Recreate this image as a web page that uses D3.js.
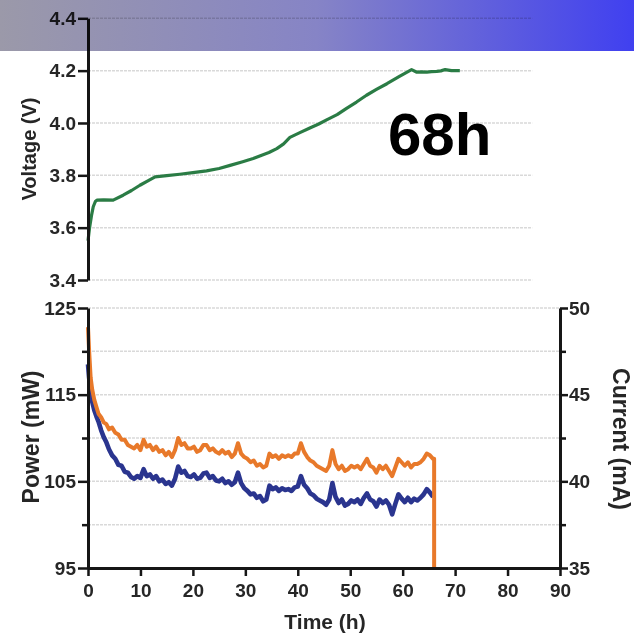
<!DOCTYPE html>
<html>
<head>
<meta charset="utf-8">
<script src="https://cdn.jsdelivr.net/npm/d3@7"></script>
<style>
  html, body { margin: 0; padding: 0; background: #fff; }
  svg { display: block; }
  text { font-family: 'Liberation Sans', Arial, sans-serif; font-weight: bold; fill: #262626; }
</style>
</head>
<body>
<svg id="chart" width="634" height="635"></svg>
<script>
// voltage trace (top panel)
const voltHours = [0, 0.3, 0.7, 1.0, 1.4, 1.7, 3.0, 4.8, 6.7, 8.3,
  9.9, 11.5, 12.8, 15.0, 17.5, 20.0, 22.6, 25.0, 27.1, 29.5,
  31.5, 33.0, 34.5, 36.0, 37.3, 38.5, 40.3, 42.3, 44.0, 45.5,
  47.5, 49.3, 51.2, 53.1, 55.0, 57.0, 59.3, 61.7, 62.7, 63.6,
  64.6, 65.5, 66.5, 67.3, 68.1, 69.3, 70.9];
const voltage = [3.55, 3.60, 3.65, 3.68, 3.70, 3.705, 3.706, 3.705, 3.724, 3.742,
  3.762, 3.780, 3.794, 3.799, 3.804, 3.810, 3.817, 3.826, 3.838, 3.852,
  3.864, 3.876, 3.887, 3.902, 3.920, 3.945, 3.962, 3.981, 3.996, 4.012,
  4.032, 4.056, 4.080, 4.106, 4.128, 4.150, 4.177, 4.204, 4.194, 4.195,
  4.194, 4.196, 4.197, 4.199, 4.204, 4.200, 4.200];

// power / current traces (bottom panel)
const hours = [0, 0.2, 0.5, 0.8, 1.2, 1.6, 2.0, 2.5, 3.0, 3.5,
  4.0, 4.6, 5.2, 5.8, 6.4, 7.0, 7.6, 8.2, 8.8, 9.4,
  10.0, 10.6, 11.2, 11.8, 12.4, 13.0, 13.6, 14.2, 14.8, 15.4,
  16.0, 16.6, 17.2, 17.8, 18.4, 19.0, 19.6, 20.2, 20.8, 21.4,
  22.0, 22.6, 23.2, 23.8, 24.4, 25.0, 25.6, 26.2, 26.8, 27.4,
  28.0, 28.6, 29.2, 29.8, 30.4, 31.0, 31.6, 32.2, 32.8, 33.4,
  34.0, 34.6, 35.2, 35.8, 36.4, 37.0, 37.6, 38.2, 38.8, 39.4,
  40.0, 40.6, 41.2, 41.8, 42.4, 43.0, 43.6, 44.2, 44.8, 45.4,
  46.0, 46.6, 47.2, 47.8, 48.4, 49.0, 49.6, 50.2, 50.8, 51.4,
  52.0, 52.6, 53.2, 53.8, 54.4, 55.0, 55.6, 56.2, 56.8, 57.4,
  58.0, 58.6, 59.2, 59.8, 60.4, 61.0, 61.6, 62.2, 62.8, 63.4,
  64.0, 64.6, 65.2, 65.8];
const power = [118.5, 117.0, 115.4, 114.2, 113.2, 112.5, 111.9, 110.9, 110.1, 109.5,
  108.7, 108.0, 107.6, 106.9, 106.8, 106.1, 106.0, 105.5, 105.3, 105.6,
  105.4, 106.4, 105.6, 105.8, 105.3, 105.6, 105.0, 105.2, 104.7, 104.9,
  104.5, 105.3, 106.7, 106.0, 106.2, 105.6, 105.5, 105.8, 105.3, 105.4,
  105.9, 106.0, 105.4, 105.6, 105.1, 105.0, 105.3, 104.8, 105.0, 104.6,
  104.9, 106.0, 104.8, 104.2, 103.9, 103.5, 103.6, 103.1, 103.3, 102.7,
  102.9, 104.5, 104.1, 104.3, 103.9, 104.2, 104.0, 104.1, 103.9, 104.3,
  104.4, 105.6, 104.6, 104.2, 103.6, 103.4, 103.0, 102.8, 102.6, 102.3,
  102.9, 104.8, 103.2, 102.5, 102.9, 102.2, 102.4, 102.8, 102.6, 102.9,
  102.4, 103.1, 103.6, 102.9, 102.7, 102.1, 102.9, 102.5, 102.8, 102.3,
  101.2, 102.4, 103.5, 103.0, 102.6, 103.1, 102.6, 103.0, 102.8, 103.1,
  103.5, 104.1, 103.7, 103.2];
const current = [48.9, 47.6, 46.0, 45.3, 44.7, 44.3, 43.9, 43.7, 43.4, 43.3,
  43.0, 43.1, 42.8, 42.7, 42.4, 42.4, 42.1, 42.0, 41.9, 42.1,
  41.8, 42.4, 42.0, 42.1, 41.8, 42.0, 41.7, 41.8, 41.5, 41.7,
  41.4, 41.8, 42.5, 42.1, 42.2, 41.9, 41.9, 42.0, 41.7, 41.8,
  42.1, 42.1, 41.8, 41.9, 41.7, 41.6, 41.8, 41.6, 41.7, 41.4,
  41.6, 42.2, 41.6, 41.4, 41.3, 41.1, 41.2, 40.9, 41.0, 40.8,
  40.9, 41.6, 41.4, 41.5, 41.3, 41.5, 41.4, 41.5, 41.4, 41.6,
  41.6, 42.2, 41.7, 41.4, 41.2, 41.1, 40.9, 40.8, 40.7, 40.6,
  40.9, 41.8, 41.0, 40.7, 40.9, 40.6, 40.7, 40.9, 40.8, 40.9,
  40.7, 41.0, 41.3, 40.9, 40.8, 40.5, 40.9, 40.7, 40.9, 40.6,
  40.3, 40.8, 41.3, 41.1, 40.9, 41.1, 40.8, 41.0, 41.0, 41.1,
  41.3, 41.6, 41.5, 41.3];
// current cut-off at the end of the run
const cutoffHours = [66.0, 66.0];
const cutoffCurrent = [41.3, 35];

const xTicks = d3.range(0, 91, 10);
const voltTicks = [3.4, 3.6, 3.8, 4.0, 4.2, 4.4];
const powerTicks = [95, 105, 115, 125];
const powerMinor = [100, 110, 120];
const currentTicks = [35, 40, 45, 50];
const currentMinor = [37.5, 42.5, 47.5];

const svg = d3.select('#chart');
const W = 634;

const COLORS = { volt: '#2c7c45', power: '#2b358f', current: '#e8792b', grid: '#d9d9d9', axis: '#161616' };

const defs = svg.append('defs');
const grad = defs.append('linearGradient').attr('id', 'banner').attr('x1', 0).attr('x2', 1);
grad.append('stop').attr('offset', '0%').attr('stop-color', '#9b99a9');
grad.append('stop').attr('offset', '50%').attr('stop-color', '#8684c6');
grad.append('stop').attr('offset', '100%').attr('stop-color', '#4040f0');
defs.append('filter').attr('id', 'soft')
  .append('feGaussianBlur').attr('stdDeviation', 0.55);

const root = svg.append('g').attr('filter', 'url(#soft)');

const x = d3.scaleLinear().domain([0, 90]).range([88, 560]);
const yVolt = d3.scaleLinear().domain([3.4, 4.4]).range([280, 18.3]);
const yPower = d3.scaleLinear().domain([95, 125]).range([568, 308]);
const yCurrent = d3.scaleLinear().domain([35, 50]).range([568, 308]);
const topGridEnd = 84.7; // top panel grid stops short of the right axis

const styleAxis = g => {
  g.select('.domain').attr('stroke', COLORS.axis).attr('stroke-width', 3);
  g.selectAll('.tick line').attr('stroke', COLORS.axis).attr('stroke-width', 2.5);
  g.selectAll('.tick text').attr('font-size', 19).attr('fill', '#262626')
    .style('font-family', "'Liberation Sans', Arial, sans-serif").style('font-weight', 'bold');
};

// ---- top panel: voltage
root.append('g').selectAll('line').data(voltTicks).join('line')
  .attr('x1', x(0)).attr('x2', x(topGridEnd))
  .attr('y1', d => yVolt(d)).attr('y2', d => yVolt(d))
  .attr('stroke', COLORS.grid).attr('stroke-width', 1.5).attr('stroke-dasharray', '3,1');

root.append('path')
  .datum(d3.zip(voltHours, voltage))
  .attr('fill', 'none').attr('stroke', COLORS.volt).attr('stroke-width', 3.2)
  .attr('stroke-linejoin', 'round')
  .attr('d', d3.line().x(d => x(d[0])).y(d => yVolt(d[1])));

root.append('g').attr('transform', `translate(${x(0)},0)`)
  .call(d3.axisLeft(yVolt).tickValues(voltTicks).tickFormat(d3.format('.1f'))
    .tickSize(10).tickSizeOuter(0).tickPadding(2))
  .call(styleAxis);

root.append('text').attr('transform', 'translate(36,149) rotate(-90)')
  .attr('text-anchor', 'middle').attr('font-size', 20).text('Voltage (V)');

// ---- bottom panel: power and current
root.append('g').selectAll('line').data(d3.range(95, 126, 5)).join('line')
  .attr('x1', x(0)).attr('x2', x(90))
  .attr('y1', d => yPower(d)).attr('y2', d => yPower(d))
  .attr('stroke', COLORS.grid).attr('stroke-width', 1.5).attr('stroke-dasharray', '3,1');

const lineP = d3.line().x(d => x(d[0])).y(d => yPower(d[1]));
const lineI = d3.line().x(d => x(d[0])).y(d => yCurrent(d[1]));

root.append('path')
  .datum(d3.zip(hours, power))
  .attr('fill', 'none').attr('stroke', COLORS.power).attr('stroke-width', 4.6)
  .attr('stroke-linejoin', 'round').attr('d', lineP);

root.append('path')
  .datum(d3.zip(hours, current).concat(d3.zip(cutoffHours, cutoffCurrent)))
  .attr('fill', 'none').attr('stroke', COLORS.current).attr('stroke-width', 4)
  .attr('stroke-linejoin', 'round').attr('d', lineI);

// left axis
root.append('g').attr('transform', `translate(${x(0)},0)`)
  .call(d3.axisLeft(yPower).tickValues(powerTicks).tickSize(10).tickSizeOuter(0).tickPadding(2))
  .call(styleAxis);
root.append('g').attr('transform', `translate(${x(0)},0)`)
  .call(d3.axisLeft(yPower).tickValues(powerMinor).tickSize(6).tickSizeOuter(0).tickFormat(''))
  .call(styleAxis).call(g => g.select('.domain').remove());

// right axis
root.append('g').attr('transform', `translate(${x(90)},0)`)
  .call(d3.axisRight(yCurrent).tickValues(currentTicks).tickSize(8).tickSizeOuter(0).tickPadding(1))
  .call(styleAxis);
root.append('g').attr('transform', `translate(${x(90)},0)`)
  .call(d3.axisRight(yCurrent).tickValues(currentMinor).tickSize(6).tickSizeOuter(0).tickFormat(''))
  .call(styleAxis).call(g => g.select('.domain').remove());

// bottom axis
root.append('g').attr('transform', `translate(0,${yPower(95)})`)
  .call(d3.axisBottom(x).tickValues(xTicks).tickSize(8).tickSizeOuter(0).tickPadding(8))
  .call(styleAxis);

root.append('text').attr('transform', 'translate(39,437) rotate(-90)')
  .attr('text-anchor', 'middle').attr('font-size', 23).text('Power (mW)');
root.append('text').attr('transform', 'translate(613,439) rotate(90)')
  .attr('text-anchor', 'middle').attr('font-size', 23).text('Current (mA)');
root.append('text').attr('x', 325).attr('y', 629)
  .attr('text-anchor', 'middle').attr('font-size', 21).text('Time (h)');

// ---- annotation
svg.append('text').attr('x', 388).attr('y', 155)
  .attr('font-size', 60).style('fill', '#000').text('68h');

// ---- header band
svg.append('rect').attr('x', 0).attr('y', 0).attr('width', W).attr('height', 51)
  .attr('fill', 'url(#banner)').style('mix-blend-mode', 'multiply');
</script>
</body>
</html>
